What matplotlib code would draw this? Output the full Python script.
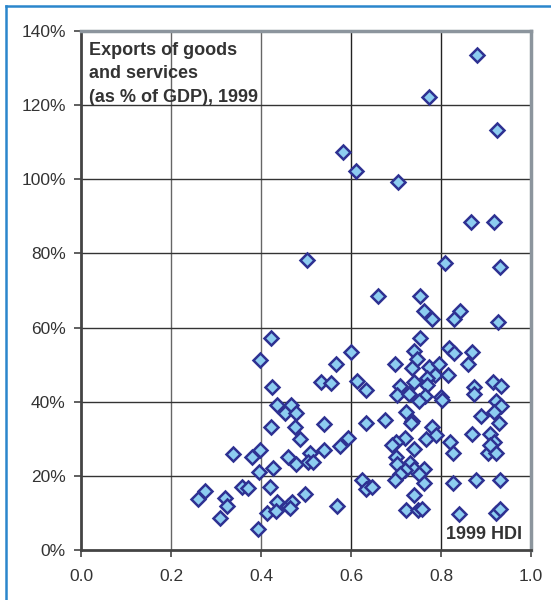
import matplotlib
matplotlib.use("Agg")
import matplotlib.pyplot as plt
from matplotlib.lines import Line2D

plt.rcParams['font.family'] = ['Liberation Sans', 'DejaVu Sans']

# 1999 HDI value and exports of goods and services (% of GDP), one per country
hdi = [
    0.880, 0.774, 0.924, 0.583, 0.611, 0.704, 0.867, 0.917, 0.502, 0.809,
    0.931, 0.659, 0.754, 0.763, 0.780, 0.843, 0.828, 0.927, 0.422, 0.754,
    0.600, 0.740, 0.747, 0.818, 0.828, 0.870, 0.397, 0.567, 0.697, 0.736,
    0.773, 0.795, 0.861, 0.787, 0.769, 0.815,
    0.533, 0.555, 0.614, 0.633, 0.740, 0.770, 0.710, 0.703, 0.728, 0.764,
    0.751, 0.800, 0.802, 0.873, 0.873, 0.916, 0.934, 0.923, 0.934, 0.917,
    0.889, 0.929, 0.723, 0.736, 0.734, 0.675, 0.634, 0.781, 0.789, 0.870,
    0.910, 0.917, 0.767, 0.721, 0.699, 0.692, 0.740, 0.820, 0.826, 0.905,
    0.923, 0.910, 0.594, 0.576, 0.699, 0.703, 0.732, 0.740, 0.720, 0.710,
    0.763, 0.751, 0.697, 0.625, 0.634, 0.646, 0.762, 0.826, 0.878, 0.932,
    0.741, 0.570, 0.723, 0.749, 0.758, 0.839, 0.923, 0.931,
    0.424, 0.436, 0.466, 0.454, 0.477, 0.422, 0.475, 0.486, 0.540, 0.338,
    0.379, 0.397, 0.395, 0.426, 0.461, 0.478, 0.508, 0.505, 0.515, 0.539,
    0.358, 0.372, 0.419, 0.259, 0.275, 0.321, 0.324, 0.309, 0.394, 0.414,
    0.436, 0.434, 0.461, 0.469, 0.465, 0.497,
]
exports_pct = [
    133.4, 122.3, 113.3, 107.4, 102.2, 99.2, 88.4, 88.4, 78.3, 77.4,
    76.4, 68.4, 68.4, 64.5, 62.4, 64.5, 62.4, 61.4, 57.2, 57.3,
    53.3, 53.6, 51.5, 54.4, 53.1, 53.4, 51.2, 50.2, 50.2, 49.2,
    49.4, 50.3, 50.2, 47.3, 46.4, 47.1,
    45.2, 45.1, 45.5, 43.1, 45.3, 44.4, 44.3, 41.9, 42.2, 41.5,
    40.1, 41.4, 40.4, 44.1, 42.1, 45.2, 44.2, 40.1, 38.9, 37.1,
    36.2, 34.2, 37.1, 34.9, 34.2, 35.1, 34.2, 33.3, 31.1, 31.2,
    31.4, 29.2, 29.9, 30.2, 29.2, 28.2, 27.2, 29.2, 26.1, 26.1,
    26.1, 28.3, 30.2, 28.0, 25.1, 23.3, 23.6, 21.9, 21.5, 20.6,
    21.9, 20.6, 18.9, 19.0, 16.5, 17.0, 18.1, 18.1, 19.0, 19.0,
    14.9, 11.8, 10.8, 10.8, 11.2, 9.8, 9.9, 11.1,
    44.1, 39.1, 39.1, 37.0, 37.0, 33.2, 33.1, 30.0, 34.0, 26.0,
    25.1, 27.0, 21.0, 22.0, 25.1, 23.1, 26.1, 23.8, 23.8, 27.0,
    17.0, 16.8, 17.0, 13.8, 15.9, 14.1, 11.8, 8.6, 5.7, 10.0,
    12.9, 10.6, 11.8, 12.9, 11.4, 15.0,
]

x_ticks = [0.0, 0.2, 0.4, 0.6, 0.8, 1.0]
x_labels = ['0.0', '0.2', '0.4', '0.6', '0.8', '1.0']
y_ticks = [0, 20, 40, 60, 80, 100, 120, 140]
y_labels = ['0%', '20%', '40%', '60%', '80%', '100%', '120%', '140%']

fig = plt.figure(figsize=(5.51, 6.0), dpi=100)
ax = fig.add_axes([0.147, 0.0833, 0.8167, 0.865])

ax.set_xlim(0, 1.0)
ax.set_ylim(0, 140)

# grid
for xv in x_ticks[1:-1]:
    ax.axvline(xv, color='#666666' if xv < 0.5 else '#222222', lw=1.0, zorder=1)
for yv in y_ticks[1:-1]:
    ax.axhline(yv, color='#333333', lw=1.0, zorder=1)

ax.plot(hdi, exports_pct, linestyle='none', marker='D', markersize=7.4,
        markerfacecolor='#8DCDF0', markeredgecolor='#2E3192',
        markeredgewidth=1.8, zorder=3, clip_on=False)

ax.set_xticks(x_ticks)
ax.set_xticklabels(x_labels)
ax.set_yticks(y_ticks)
ax.set_yticklabels(y_labels)
ax.tick_params(axis='both', direction='out', length=5, width=1.2,
               color='#444444', labelsize=12.5, labelcolor='#333333')
ax.tick_params(axis='x', pad=9)
ax.tick_params(axis='y', pad=6)

for side in ('left', 'bottom'):
    ax.spines[side].set_color('#444444')
    ax.spines[side].set_linewidth(2.0)
for side in ('top', 'right'):
    ax.spines[side].set_color('#8C959D')
    ax.spines[side].set_linewidth(2.5)

ax.text(0.018, 0.979, 'Exports of goods\nand services\n(as % of GDP), 1999',
        transform=ax.transAxes, ha='left', va='top', fontsize=13,
        fontweight='bold', color='#333333', linespacing=1.5, zorder=4)
ax.text(0.98, 0.013, '1999 HDI', transform=ax.transAxes, ha='right',
        va='bottom', fontsize=13, fontweight='bold', color='#333333',
        zorder=4)

# outer frame lines along the left and top of the figure
fig.add_artist(Line2D([0.011, 0.011], [0.0, 0.99], transform=fig.transFigure,
                      color='#2B86CC', lw=1.8))
fig.add_artist(Line2D([0.011, 1.0], [0.99, 0.99], transform=fig.transFigure,
                      color='#2B86CC', lw=1.8))

fig.savefig('out.png', dpi=100)
